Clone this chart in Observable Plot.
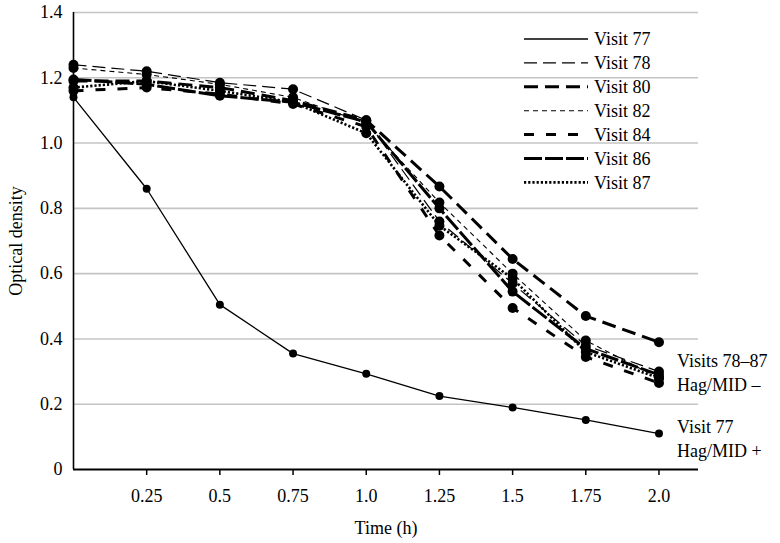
<!DOCTYPE html>
<html>
<head>
<meta charset="utf-8">
<script src="https://cdn.jsdelivr.net/npm/d3@7"></script>
<script src="https://cdn.jsdelivr.net/npm/@observablehq/plot@0.6"></script>
<style>
  html, body { margin: 0; padding: 0; background: #fff; }
  #chart svg { display: block; }
  #chart svg text, #chart svg tspan { font-family: "Liberation Serif", serif !important; }
</style>
</head>
<body>
<div id="chart"></div>
<script>
// ---- data ----
const times = [0, 0.25, 0.5, 0.75, 1.0, 1.25, 1.5, 1.75, 2.0];
const visitNames = ["Visit 77", "Visit 78", "Visit 80", "Visit 82", "Visit 84", "Visit 86", "Visit 87"];
const visit77 = [1.14, 0.86, 0.505, 0.355, 0.293, 0.225, 0.19, 0.152, 0.11];
const visit78 = [1.24, 1.22, 1.185, 1.165, 1.07, 0.76, 0.57, 0.38, 0.30];
const visit80 = [1.19, 1.19, 1.17, 1.13, 1.07, 0.867, 0.645, 0.47, 0.39];
const visit82 = [1.23, 1.21, 1.18, 1.14, 1.06, 0.818, 0.60, 0.395, 0.28];
const visit84 = [1.16, 1.17, 1.15, 1.12, 1.05, 0.717, 0.495, 0.345, 0.265];
const visit86 = [1.195, 1.18, 1.145, 1.125, 1.065, 0.80, 0.545, 0.37, 0.29];
const visit87 = [1.17, 1.19, 1.16, 1.125, 1.03, 0.747, 0.585, 0.36, 0.28];
const seriesValues = [visit77, visit78, visit80, visit82, visit84, visit86, visit87];
const xTickValues = [0.25, 0.5, 0.75, 1.0, 1.25, 1.5, 1.75, 2.0];
const xTickLabels = ["0.25", "0.5", "0.75", "1.0", "1.25", "1.5", "1.75", "2.0"];
const yTickValues = [0, 0.2, 0.4, 0.6, 0.8, 1.0, 1.2, 1.4];
const yTickLabels = ["0", "0.2", "0.4", "0.6", "0.8", "1.0", "1.2", "1.4"];
const annotationTexts = ["Visits 78–87\nHag/MID –", "Visit 77\nHag/MID +"];

// ---- styles (kept separate from data) ----
const lineStyles = {
  "Visit 77": {w: 1.3, dash: null, r: 4},
  "Visit 78": {w: 1.2, dash: "13,6", r: 5},
  "Visit 80": {w: 3, dash: "14,7", r: 5},
  "Visit 82": {w: 1.1, dash: "5,4", r: 5},
  "Visit 84": {w: 3, dash: "10,12", r: 5},
  "Visit 86": {w: 3, dash: "18,3", r: 5},
  "Visit 87": {w: 2.6, dash: "2.2,2", r: 5}
};

// ---- tidy table ----
const rows = [];
visitNames.forEach((name, i) => {
  seriesValues[i].forEach((v, j) => rows.push({visit: name, time: times[j], od: v}));
});

const lastIdx = times.length - 1;
const groupEnds = seriesValues.slice(1).map(s => s[lastIdx]);
const annotations = [
  {x: times[lastIdx], y: d3.mean(groupEnds), text: annotationTexts[0]},
  {x: times[lastIdx], y: visit77[lastIdx] - 0.012, text: annotationTexts[1]}
];

const font = '"Liberation Serif", serif';
const fsize = 18;

const lineMarks = [];
const dotMarks = [];
visitNames.forEach(name => {
  const st = lineStyles[name];
  const data = rows.filter(d => d.visit === name);
  lineMarks.push(Plot.line(data, {
    x: "time", y: "od", stroke: "#000", strokeWidth: st.w,
    strokeDasharray: st.dash || undefined, strokeLinejoin: "miter", strokeLinecap: "butt"
  }));
  dotMarks.push(Plot.dot(data, {x: "time", y: "od", r: st.r, fill: "#000", stroke: "none"}));
});

const chart = Plot.plot({
  width: 780,
  height: 543,
  marginLeft: 73,
  marginRight: 82,
  marginTop: 12,
  marginBottom: 74,
  style: {fontFamily: font, fontSize: fsize + "px", background: "#fff", color: "#000", overflow: "visible"},
  x: {domain: [0, 2.135]},
  y: {domain: [0, 1.4]},
  marks: [
    Plot.gridY(yTickValues.slice(1), {stroke: "#c4c4c4", strokeOpacity: 1, strokeWidth: 1.6}),
    Plot.axisX(xTickValues, {
      tickSize: 6, tickPadding: 14, strokeWidth: 1.5,
      tickFormat: d => xTickLabels[xTickValues.indexOf(d)],
      fontSize: fsize,
      label: "Time (h)", labelAnchor: "center", labelOffset: 64, labelArrow: "none"
    }),
    Plot.axisY(yTickValues, {
      tickSize: 0, tickPadding: 11,
      tickFormat: d => yTickLabels[yTickValues.indexOf(d)],
      fontSize: fsize,
      label: "Optical density", labelAnchor: "center", labelOffset: 64, labelArrow: "none"
    }),
    ...lineMarks,
    Plot.ruleX([0], {stroke: "#000", strokeWidth: 1.6}),
    Plot.ruleY([0], {stroke: "#000", strokeWidth: 2.2}),
    ...dotMarks,
    Plot.text(annotations, {
      x: "x", y: "y", text: "text", dx: 18, textAnchor: "start",
      lineAnchor: "middle", lineHeight: 1.33, fontSize: fsize, fill: "#000"
    })
  ]
});

document.getElementById("chart").appendChild(chart);

// ---- legend inside plot area (top-right) ----
const svg = d3.select(chart.tagName.toLowerCase() === "svg" ? chart : chart.querySelector("svg"));
const leg = svg.append("g").attr("font-family", font).attr("font-size", fsize).attr("text-anchor", "start");
const legX0 = 524, legX1 = 588, legTextX = 594, legY0 = 39, legDy = 23.9;
visitNames.forEach((name, i) => {
  const st = lineStyles[name];
  const y = legY0 + i * legDy;
  leg.append("line")
    .attr("x1", legX0).attr("x2", legX1).attr("y1", y).attr("y2", y)
    .attr("stroke", "#000").attr("stroke-width", st.w)
    .attr("stroke-dasharray", st.dash);
  leg.append("text")
    .attr("x", legTextX).attr("y", y).attr("dy", "0.35em")
    .attr("text-anchor", "start")
    .attr("fill", "#000").text(name);
});
</script>
</body>
</html>
